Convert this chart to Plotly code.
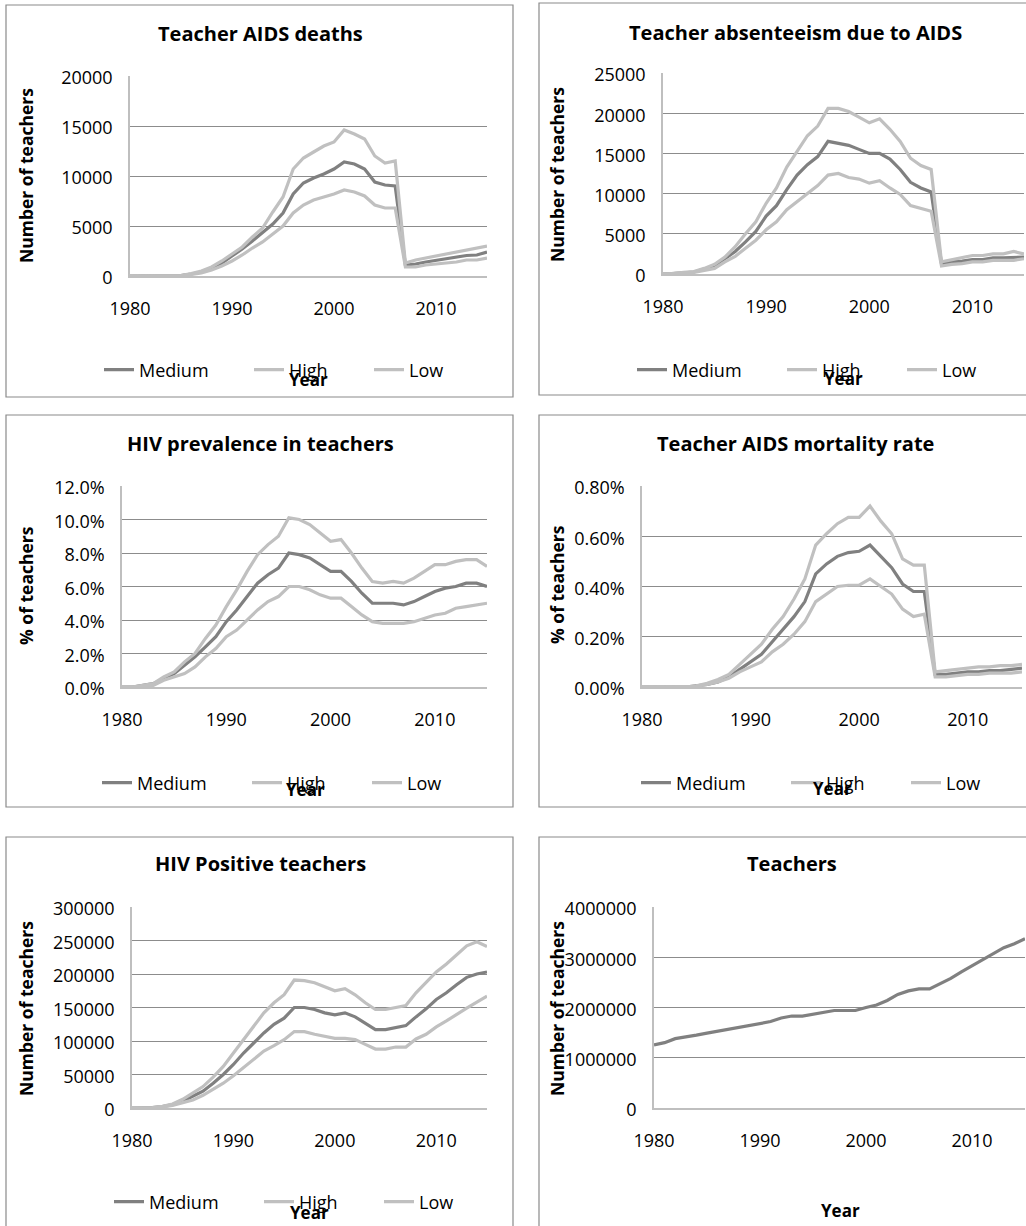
import plotly.graph_objects as go

W, H = 1026, 1226
FONT = "Open Sans"

years = list(range(1980, 2016))

# Panel 1: Teacher AIDS deaths
deaths_medium = [0, 0, 0, 0, 0, 50, 200, 400, 800, 1300, 2000, 2700, 3500, 4300, 5200, 6300, 8200, 9300, 9800, 10200, 10700, 11400, 11200, 10700, 9400, 9100, 9000, 1100, 1200, 1400, 1550, 1700, 1850, 2050, 2100, 2400]
deaths_high = [0, 0, 0, 0, 0, 50, 250, 500, 900, 1500, 2200, 2900, 3900, 4800, 6400, 7900, 10700, 11800, 12400, 13000, 13400, 14600, 14200, 13700, 12000, 11300, 11500, 1300, 1600, 1800, 2000, 2200, 2400, 2600, 2800, 3000]
deaths_low = [0, 0, 0, 0, 0, 30, 150, 300, 600, 1000, 1500, 2100, 2800, 3400, 4200, 5000, 6300, 7100, 7600, 7900, 8200, 8600, 8400, 8000, 7100, 6800, 6800, 900, 900, 1100, 1200, 1300, 1400, 1600, 1600, 1800]

# Panel 2: Teacher absenteeism due to AIDS
absent_medium = [0, 50, 150, 250, 600, 1000, 1900, 2800, 4000, 5300, 7200, 8500, 10500, 12300, 13600, 14600, 16500, 16300, 16000, 15500, 15000, 15000, 14300, 13000, 11400, 10700, 10200, 1300, 1500, 1600, 1800, 1800, 2000, 2000, 2000, 2100]
absent_high = [0, 50, 200, 300, 700, 1200, 2100, 3400, 5000, 6500, 8800, 10700, 13300, 15200, 17200, 18400, 20600, 20600, 20200, 19500, 18800, 19300, 18000, 16500, 14400, 13500, 13000, 1500, 1800, 2000, 2300, 2300, 2500, 2500, 2800, 2500]
absent_low = [0, 30, 100, 200, 500, 700, 1500, 2200, 3200, 4200, 5500, 6500, 8000, 9000, 10100, 11000, 12300, 12500, 12000, 11800, 11300, 11600, 10700, 9900, 8500, 8100, 7800, 1000, 1200, 1300, 1500, 1500, 1700, 1700, 1700, 1900]

# Panel 3: HIV prevalence in teachers (%)
prev_medium = [0, 0, 0.1, 0.2, 0.5, 0.8, 1.3, 1.8, 2.4, 3.0, 3.9, 4.6, 5.4, 6.2, 6.7, 7.1, 8.0, 7.9, 7.7, 7.3, 6.9, 6.9, 6.3, 5.6, 5.0, 5.0, 5.0, 4.9, 5.1, 5.4, 5.7, 5.9, 6.0, 6.2, 6.2, 6.0]
prev_high = [0, 0, 0.1, 0.2, 0.6, 0.9, 1.5, 2.0, 2.9, 3.7, 4.8, 5.8, 6.9, 7.9, 8.5, 9.0, 10.1, 10.0, 9.7, 9.2, 8.7, 8.8, 8.0, 7.1, 6.3, 6.2, 6.3, 6.2, 6.5, 6.9, 7.3, 7.3, 7.5, 7.6, 7.6, 7.2]
prev_low = [0, 0, 0.05, 0.1, 0.4, 0.6, 0.8, 1.2, 1.8, 2.3, 3.0, 3.4, 4.0, 4.6, 5.1, 5.4, 6.0, 6.0, 5.8, 5.5, 5.3, 5.3, 4.8, 4.3, 3.9, 3.8, 3.8, 3.8, 3.9, 4.1, 4.3, 4.4, 4.7, 4.8, 4.9, 5.0]

# Panel 4: Teacher AIDS mortality rate (%)
mort_medium = [0, 0, 0, 0, 0, 0.005, 0.01, 0.02, 0.04, 0.07, 0.10, 0.13, 0.18, 0.23, 0.28, 0.34, 0.45, 0.49, 0.52, 0.535, 0.54, 0.565, 0.52, 0.475, 0.41, 0.38, 0.38, 0.05, 0.05, 0.055, 0.06, 0.06, 0.065, 0.065, 0.07, 0.075]
mort_high = [0, 0, 0, 0, 0, 0.005, 0.015, 0.03, 0.05, 0.09, 0.13, 0.17, 0.23, 0.28, 0.35, 0.43, 0.565, 0.61, 0.65, 0.675, 0.675, 0.72, 0.66, 0.61, 0.51, 0.485, 0.485, 0.06, 0.065, 0.07, 0.075, 0.08, 0.08, 0.085, 0.085, 0.09]
mort_low = [0, 0, 0, 0, 0, 0.003, 0.01, 0.02, 0.035, 0.06, 0.08, 0.10, 0.14, 0.17, 0.21, 0.26, 0.34, 0.37, 0.40, 0.405, 0.405, 0.43, 0.40, 0.37, 0.31, 0.28, 0.29, 0.04, 0.04, 0.045, 0.05, 0.05, 0.055, 0.055, 0.055, 0.06]

# Panel 5: HIV Positive teachers
pos_medium = [0, 0, 500, 2000, 5000, 10000, 17000, 25000, 37000, 50000, 65000, 82000, 97000, 112000, 125000, 134000, 150000, 150000, 147000, 142000, 139000, 142000, 136000, 127000, 117000, 117000, 120000, 123000, 136000, 148000, 162000, 172000, 184000, 195000, 200000, 203000]
pos_high = [0, 0, 500, 2500, 6000, 13000, 22000, 32000, 46000, 62000, 82000, 102000, 122000, 142000, 157000, 169000, 191000, 190000, 187000, 181000, 175000, 178000, 169000, 157000, 147000, 147000, 150000, 153000, 172000, 187000, 203000, 215000, 228000, 242000, 248000, 241000]
pos_low = [0, 0, 300, 1500, 4000, 8000, 12000, 19000, 28000, 37000, 48000, 60000, 72000, 85000, 93000, 102000, 114000, 114000, 110000, 107000, 104000, 104000, 102000, 95000, 88000, 88000, 91000, 91000, 103000, 110000, 121000, 130000, 140000, 149000, 158000, 167000]

# Panel 6: Teachers
teachers = [1256000, 1300000, 1380000, 1410000, 1450000, 1490000, 1530000, 1570000, 1610000, 1650000, 1690000, 1720000, 1790000, 1830000, 1830000, 1870000, 1910000, 1940000, 1940000, 1940000, 2000000, 2050000, 2140000, 2260000, 2330000, 2370000, 2370000, 2470000, 2580000, 2710000, 2830000, 2960000, 3080000, 3190000, 3270000, 3370000]

series_names = ["Medium", "High", "Low"]
titles = ["Teacher AIDS deaths", "Teacher absenteeism due to AIDS", "HIV prevalence in teachers",
          "Teacher AIDS mortality rate", "HIV Positive teachers", "Teachers"]
ytitles = ["Number of teachers", "Number of teachers", "% of teachers", "% of teachers",
           "Number of teachers", "Number of teachers"]

DARK = "#808080"
LIGHT = "#c0c0c0"
GRID = "#8c8c8c"
AXLINE = "#bfbfbf"
BORDER = "#8a8a8a"

# layout geometry (pixels)
plots = [  # x0, x1, ytop, ybottom
    (130, 487, 76, 276),
    (663, 1024, 73, 274),
    (122, 487, 486, 687),
    (642, 1022, 486, 687),
    (132, 487, 907, 1108),
    (654, 1025, 907, 1108),
]
borders = [(6, 5, 513, 397), (539, 3, 1040, 395), (6, 415, 513, 807),
           (539, 415, 1040, 807), (6, 837, 513, 1240), (539, 837, 1040, 1240)]
title_pos = [(260, 33), (795, 32), (260, 443), (795, 443), (260, 863), (792, 863)]
ytitle_pos = [(26, 176), (557, 175), (26, 586), (557, 585), (26, 1009), (557, 1009)]
year_pos = [(308, 380), (843, 378), (305, 789), (832, 788), (309, 1212), (840, 1210)]
legend_pos = [(99, 370), (632, 370), (97, 783), (636, 783), (109, 1202)]

yranges = [(0, 20000, 5000), (0, 25000, 5000), (0, 12, 2), (0, 0.8, 0.2), (0, 300000, 50000), (0, 4000000, 1000000)]
yfmt = [dict(tickformat="d"), dict(tickformat="d"), dict(tickformat=".1f", ticksuffix="%"),
        dict(tickformat=".2f", ticksuffix="%"), dict(tickformat="d"), dict(tickformat="d")]

data_sets = [
    (deaths_medium, deaths_high, deaths_low),
    (absent_medium, absent_high, absent_low),
    (prev_medium, prev_high, prev_low),
    (mort_medium, mort_high, mort_low),
    (pos_medium, pos_high, pos_low),
]

fig = go.Figure()
legend_widths = [105, 75, 40]

for i, ds in enumerate(data_sets):
    ax = "" if i == 0 else str(i + 1)
    leg = "legend" if i == 0 else f"legend{i + 1}"
    for name, vals, col, lw in zip(series_names, ds, [DARK, LIGHT, LIGHT], legend_widths):
        fig.add_trace(go.Scatter(x=years, y=vals, mode="lines", name=name,
                                 line=dict(color=col, width=3.2),
                                 xaxis="x" + ax, yaxis="y" + ax,
                                 legend=leg, legendwidth=lw, showlegend=True))

fig.add_trace(go.Scatter(x=years, y=teachers, mode="lines", name="Teachers",
                         line=dict(color=DARK, width=3.2), xaxis="x6", yaxis="y6",
                         showlegend=False))

layout = dict(width=W, height=H, margin=dict(l=0, r=0, t=0, b=0, pad=0, autoexpand=False),
              paper_bgcolor="white", plot_bgcolor="white",
              font=dict(family=FONT, size=18, color="#000000"))

for i, (x0, x1, yt, yb) in enumerate(plots):
    k = "" if i == 0 else str(i + 1)
    lo, hi, dt = yranges[i]
    layout["xaxis" + k] = dict(domain=[x0 / W, x1 / W], range=[1980, 2015], anchor="y" + k,
                               tickvals=[1980, 1990, 2000, 2010], showgrid=False,
                               showline=True, linecolor=AXLINE, linewidth=1.5,
                               ticks="outside", ticklen=16, tickcolor="rgba(0,0,0,0)",
                               zeroline=False, automargin=False,
                               tickfont=dict(size=18, family=FONT))
    layout["yaxis" + k] = dict(domain=[1 - yb / H, 1 - yt / H], range=[lo, hi], dtick=dt,
                               anchor="x" + k, showgrid=True, gridcolor=GRID, gridwidth=1,
                               showline=True, linecolor=AXLINE, linewidth=1.5,
                               ticks="outside", ticklen=12, tickcolor="rgba(0,0,0,0)",
                               ticklabelshift=2,
                               zeroline=False, automargin=False,
                               tickfont=dict(size=18, family=FONT), **yfmt[i])

for i, (lx, ly) in enumerate(legend_pos):
    key = "legend" if i == 0 else f"legend{i + 1}"
    layout[key] = dict(orientation="h", x=lx / W, xanchor="left", y=1 - ly / H, yanchor="middle",
                       bgcolor="rgba(0,0,0,0)", font=dict(size=18, family=FONT),
                       itemwidth=30, tracegroupgap=0)

shapes = []
for (a, b, c, d) in borders:
    shapes.append(dict(type="rect", xref="paper", yref="paper", x0=a / W, x1=c / W,
                       y0=1 - d / H, y1=1 - b / H, line=dict(color=BORDER, width=1.2),
                       fillcolor="rgba(0,0,0,0)", layer="below"))
layout["shapes"] = shapes

ann = []
for t, (tx, ty) in zip(titles, title_pos):
    ann.append(dict(text=f"<b>{t}</b>", x=tx / W, y=1 - ty / H, xref="paper", yref="paper",
                    showarrow=False, xanchor="center", yanchor="middle",
                    font=dict(size=20, family=FONT, color="#000")))
for t, (tx, ty) in zip(ytitles, ytitle_pos):
    ann.append(dict(text=f"<b>{t}</b>", x=tx / W, y=1 - ty / H, xref="paper", yref="paper",
                    showarrow=False, xanchor="center", yanchor="middle", textangle=-90,
                    font=dict(size=17.5, family=FONT, color="#000")))
for (tx, ty) in year_pos:
    ann.append(dict(text="<b>Year</b>", x=tx / W, y=1 - ty / H, xref="paper", yref="paper",
                    showarrow=False, xanchor="center", yanchor="middle",
                    font=dict(size=17, family=FONT, color="#000")))
layout["annotations"] = ann

fig.update_layout(**layout)
fig.write_html("out.html", config={"displayModeBar": False},
               post_script="document.body.style.margin='0px';document.body.style.overflow='hidden';")
